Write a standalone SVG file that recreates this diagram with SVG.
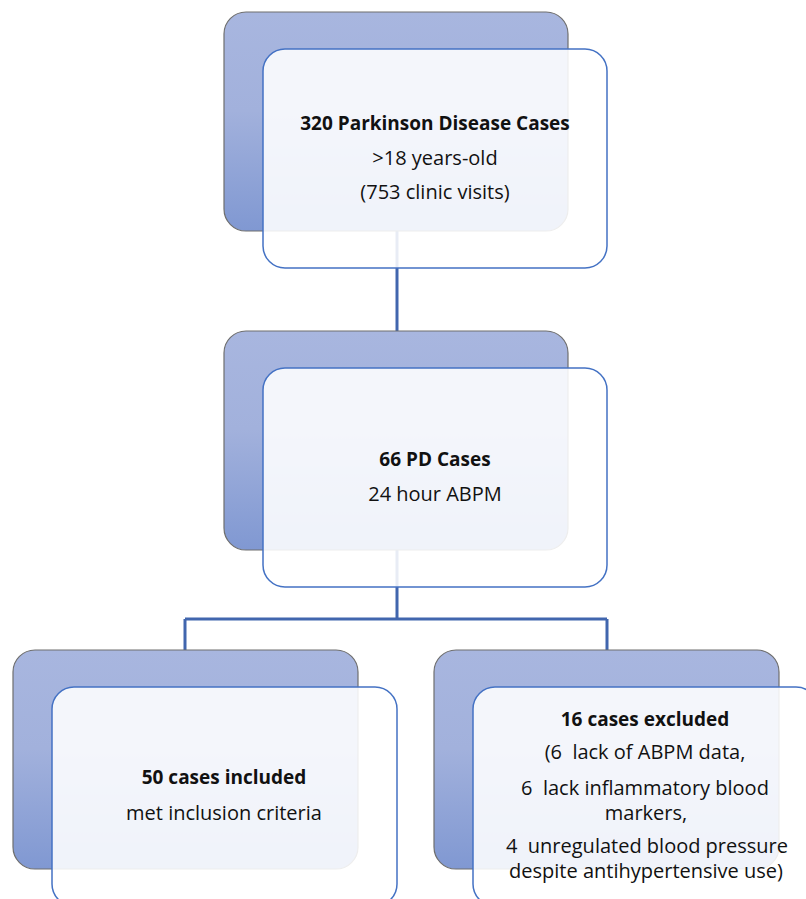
<svg xmlns="http://www.w3.org/2000/svg" width="806" height="899" viewBox="0 0 806 899">
<defs>
<linearGradient id="bg" x1="0" y1="0" x2="0" y2="1">
<stop offset="0" stop-color="#a8b6df"/>
<stop offset="0.45" stop-color="#a2b1dc"/>
<stop offset="1" stop-color="#8098d2"/>
</linearGradient>
<style>
.back{fill:url(#bg);stroke:#6e6e6e;stroke-width:1.2}
.front{fill:#ffffff;fill-opacity:0.88;stroke:#4472c4;stroke-width:1.5}
.conn{fill:none;stroke:#4166ae;stroke-width:3}
text{font-family:"Open Sans","Liberation Sans",sans-serif;font-size:20px;fill:#111;text-anchor:middle}
.b{font-weight:bold;font-size:19px}
</style>
</defs>
<rect width="806" height="899" fill="#ffffff"/>
<g id="connectors">
<path class="conn" d="M397,231 V331"/>
<path class="conn" d="M397,550 V619 M185,619 H607 M185,619 V650 M607,619 V650"/>
</g>
<g id="node1">
<rect class="back" x="224" y="12" width="344" height="219" rx="22"/>
<rect class="front" x="263" y="49" width="344" height="219" rx="22"/>
<text class="b" x="435" y="130">320 Parkinson Disease Cases</text>
<text x="435" y="165">&gt;18 years-old</text>
<text x="435" y="199">(753 clinic visits)</text>
</g>
<g id="node2">
<rect class="back" x="224" y="331" width="344" height="219" rx="22"/>
<rect class="front" x="263" y="368" width="344" height="219" rx="22"/>
<text class="b" x="435" y="466">66 PD Cases</text>
<text x="435" y="501">24 hour ABPM</text>
</g>
<g id="node3">
<rect class="back" x="13" y="650" width="345" height="219" rx="22"/>
<rect class="front" x="52" y="687" width="345" height="219" rx="22"/>
<text class="b" x="224" y="784">50 cases included</text>
<text x="224" y="820">met inclusion criteria</text>
</g>
<g id="node4">
<rect class="back" x="434" y="650" width="345" height="219" rx="22"/>
<rect class="front" x="473" y="687" width="345" height="219" rx="22"/>
<text class="b" x="645" y="726">16 cases excluded</text>
<text x="645" y="759" xml:space="preserve">(6  lack of ABPM data,</text>
<text x="645" y="795" xml:space="preserve">6  lack inflammatory blood</text>
<text x="646" y="820">markers,</text>
<text x="647" y="853" xml:space="preserve">4  unregulated blood pressure</text>
<text x="646" y="878">despite antihypertensive use)</text>
</g>
</svg>
